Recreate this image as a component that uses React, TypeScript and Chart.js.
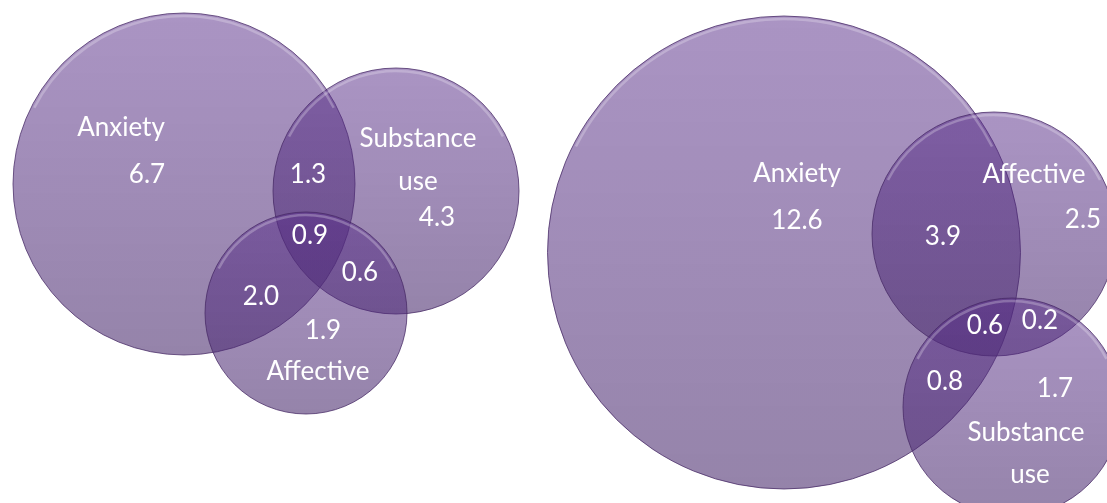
import React, { useEffect, useRef } from "react";
import { Chart, registerables } from "chart.js";

Chart.register(...registerables);

// Circle data (abstract diagram units; y axis points downward)
const circleNames = ["Anxiety", "Substance use", "Affective", "Anxiety", "Affective", "Substance use"];
const circleX = [18.4, 39.6, 30.6, 78.4, 99.4, 101.2];
const circleY = [18.4, 19.1, 31.3, 25.25, 23.4, 40.7];
const circleR = [17.1, 12.3, 10.1, 23.65, 12.2, 10.9];

// Region labels
const labelTexts = [
  "Anxiety", "6.7", "Substance", "use", "4.3", "1.3", "0.9", "0.6", "2.0", "1.9", "Affective",
  "Anxiety", "12.6", "Affective", "2.5", "3.9", "0.6", "0.2", "0.8", "1.7", "Substance", "use",
];
const labelX = [
  12.1, 14.7, 41.8, 41.8, 43.7, 30.8, 31.0, 36.0, 26.1, 32.3, 31.8,
  79.7, 79.7, 103.4, 108.3, 94.3, 98.5, 104.0, 94.5, 105.5, 102.6, 103.0,
];
const labelY = [
  12.8, 17.5, 13.9, 18.2, 21.8, 17.5, 23.6, 27.3, 29.7, 33.1, 37.2,
  17.4, 22.1, 17.5, 22.0, 23.7, 32.6, 32.1, 38.2, 38.9, 43.3, 47.5,
];

const X_MAX = 110.7;
const Y_MAX = 50.3;

const labelPlugin = {
  id: "vennLabels",
  afterDatasetsDraw(chart: any) {
    const { ctx, scales } = chart;
    const xs = scales.x;
    const ys = scales.y;
    const meta = chart.getDatasetMeta(0);
    // top highlight (bevel)
    ctx.save();
    meta.data.forEach((pt: any) => {
      const pr = pt.options.radius;
      if (!(pr > 4)) return;
      ctx.beginPath();
      ctx.arc(pt.x, pt.y, pr - 3, Math.PI * 1.15, Math.PI * 1.85);
      ctx.strokeStyle = "rgba(255,255,255,0.25)";
      ctx.lineWidth = 2.5;
      ctx.stroke();
    });
    ctx.restore();

    ctx.save();
    ctx.fillStyle = "#ffffff";
    ctx.font = "26px Lato, 'Open Sans', sans-serif";
    ctx.textAlign = "center";
    ctx.textBaseline = "middle";
    for (let i = 0; i < labelTexts.length; i++) {
      ctx.fillText(labelTexts[i], xs.getPixelForValue(labelX[i]), ys.getPixelForValue(labelY[i]));
    }
    ctx.restore();
  },
};

export default function App() {
  const canvasRef = useRef<HTMLCanvasElement | null>(null);

  useEffect(() => {
    document.body.style.margin = "0";
    const canvas = canvasRef.current;
    if (!canvas) return;
    const data: any[] = circleX.map((x, i) => ({ x, y: circleY[i], r: 0, name: circleNames[i] }));
    const chart = new Chart(canvas, {
      type: "bubble",
      data: {
        datasets: [
          {
            label: "Venn",
            data: data,
            backgroundColor: (ctx: any) => {
              const raw = ctx.raw;
              const chart = ctx.chart;
              const fallback = "rgba(80,40,130,0.52)";
              if (!raw || !chart.scales.y) return fallback;
              const py = chart.scales.y.getPixelForValue(raw.y);
              const pr = raw.r;
              if (!Number.isFinite(py) || !(pr > 0)) return fallback;
              const g = chart.ctx.createLinearGradient(0, py - pr, 0, py + pr);
              g.addColorStop(0, "rgba(86,42,136,0.5)");
              g.addColorStop(1, "rgba(72,42,108,0.58)");
              return g;
            },
            borderColor: "rgba(70,40,100,0.75)",
            borderWidth: 1,
            clip: false,
          } as any,
        ],
      },
      options: {
        animation: false,
        responsive: false,
        events: [],
        layout: { padding: 0, autoPadding: false },
        plugins: { legend: { display: false }, tooltip: { enabled: false } },
        scales: {
          x: { type: "linear", min: 0, max: X_MAX, display: false },
          y: { type: "linear", min: 0, max: Y_MAX, reverse: true, display: false },
        },
      },
      plugins: [labelPlugin],
    });
    // convert circle radii (data units) to pixel radii through the x scale
    const xs: any = chart.scales.x;
    data.forEach((d, i) => {
      d.r = Math.abs(xs.getPixelForValue(circleX[i] + circleR[i]) - xs.getPixelForValue(circleX[i]));
    });
    chart.update("none");
    return () => chart.destroy();
  }, []);

  return (
    <div style={{ width: 1107, height: 503, background: "#ffffff" }}>
      <canvas ref={canvasRef} width={1107} height={503} style={{ display: "block" }} />
    </div>
  );
}
